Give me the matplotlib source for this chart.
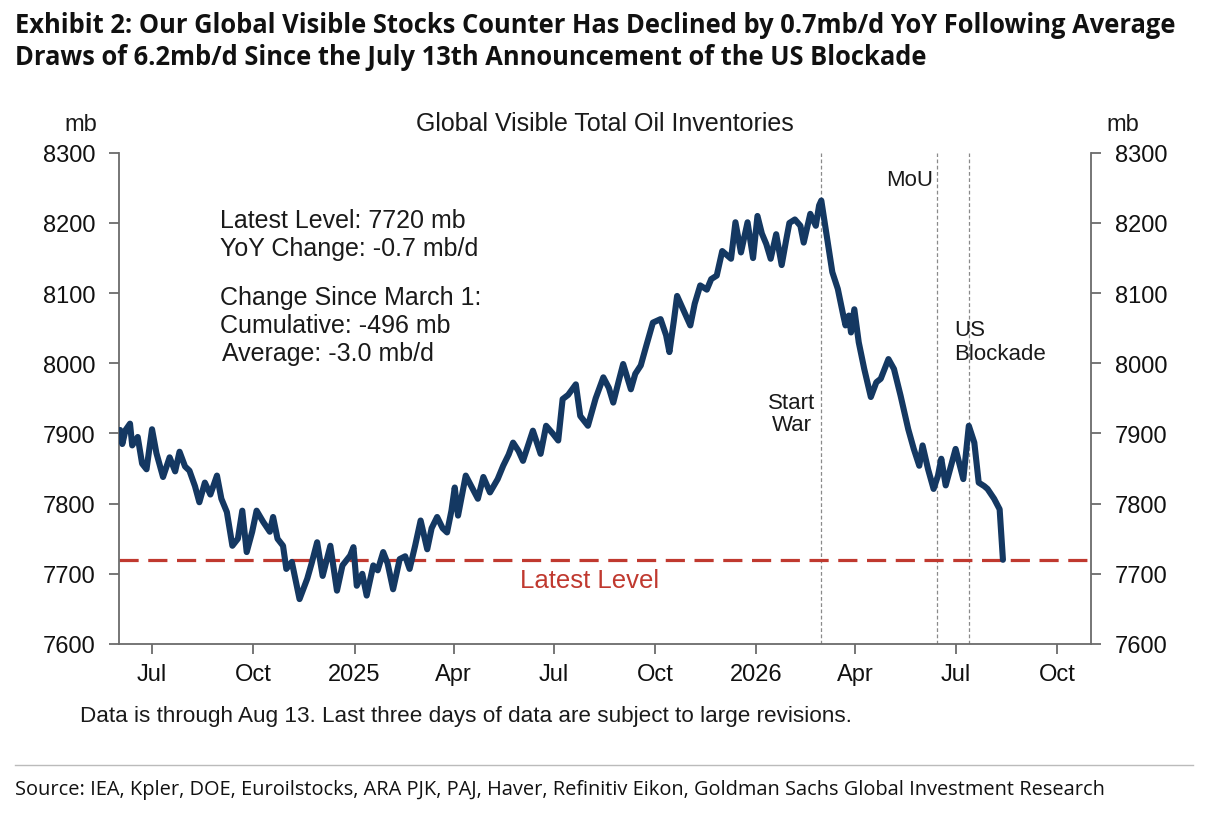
import matplotlib
matplotlib.use("Agg")
import matplotlib.pyplot as plt
from matplotlib.lines import Line2D
import pandas as pd

# ---------------- data ----------------
start_date = "2024-06-01"
day_offsets = [1, 3, 6, 10, 12, 17, 21, 25, 30, 34, 40, 46, 51, 55, 60, 64, 69, 73, 78, 83,
               89, 93, 98, 103, 108, 112, 116, 121, 125, 131, 137, 140, 144, 149, 152, 157,
               164, 171, 175, 180, 185, 192, 198, 203, 210, 213, 216, 221, 225, 231, 235, 240,
               244, 249, 255, 260, 264, 269, 274, 280, 284, 289, 294, 298, 302, 305, 308, 315,
               320, 326, 331, 337, 344, 349, 354, 358, 363, 367, 372, 376, 383, 388, 394, 399,
               403, 408, 415, 419, 426, 433, 440, 445, 449, 454, 458, 465, 469, 474, 479, 485,
               492, 497, 500, 504, 507, 513, 519, 523, 528, 534, 538, 543, 548, 556, 560, 565,
               571, 576, 580, 584, 588, 592, 597, 602, 606, 609, 614, 619, 622, 628, 633, 636,
               638, 642, 648, 653, 658, 660, 663, 665, 668, 672, 677, 683, 688, 692, 699, 704,
               710, 717, 722, 727, 730, 735, 740, 744, 747, 751, 756, 760, 767, 772, 777, 781,
               786, 789, 795, 800, 803]
inventories_mb = [7905, 7885, 7905, 7914, 7883, 7895, 7857, 7849, 7906, 7872, 7838, 7866, 7846,
                  7874, 7853, 7847, 7825, 7802, 7830, 7813, 7840, 7807, 7788, 7740, 7750, 7790,
                  7731, 7760, 7790, 7774, 7760, 7781, 7750, 7740, 7707, 7717, 7664, 7693, 7715,
                  7745, 7697, 7740, 7676, 7712, 7726, 7738, 7683, 7700, 7669, 7712, 7705, 7731,
                  7715, 7678, 7721, 7725, 7707, 7740, 7776, 7735, 7765, 7781, 7765, 7759, 7790,
                  7823, 7783, 7840, 7825, 7807, 7838, 7816, 7835, 7854, 7870, 7887, 7875, 7861,
                  7885, 7904, 7871, 7911, 7900, 7890, 7949, 7955, 7970, 7925, 7911, 7950, 7980,
                  7965, 7944, 7975, 7999, 7963, 7985, 7997, 8025, 8058, 8063, 8040, 8016, 8060,
                  8096, 8075, 8054, 8085, 8111, 8105, 8120, 8125, 8160, 8149, 8201, 8158, 8201,
                  8150, 8210, 8185, 8170, 8149, 8184, 8140, 8175, 8200, 8205, 8196, 8172, 8213,
                  8196, 8225, 8232, 8191, 8130, 8106, 8068, 8054, 8068, 8044, 8077, 8030, 7992,
                  7952, 7973, 7978, 8006, 7992, 7954, 7906, 7878, 7854, 7883, 7849, 7821, 7840,
                  7864, 7826, 7855, 7878, 7835, 7911, 7887, 7830, 7825, 7821, 7807, 7792, 7720]
latest_level = 7720
event_dates = ["2026-03-01", "2026-06-14", "2026-07-13"]
event_labels = ["Start\nWar", "MoU", "US\nBlockade"]
tick_dates = ["2024-07-01", "2024-10-01", "2025-01-01", "2025-04-01", "2025-07-01",
              "2025-10-01", "2026-01-01", "2026-04-01", "2026-07-01", "2026-10-01"]
tick_labels = ["Jul", "Oct", "2025", "Apr", "Jul", "Oct", "2026", "Apr", "Jul", "Oct"]
y_ticks = [7600, 7700, 7800, 7900, 8000, 8100, 8200, 8300]
x_limits = ["2024-06-01", "2026-11-01"]

dates = pd.Timestamp(start_date) + pd.to_timedelta(day_offsets, unit="D")

# ---------------- figure ----------------
W, H = 1206, 820
plt.rcParams["font.family"] = ["Liberation Sans", "DejaVu Sans"]
fig = plt.figure(figsize=(W / 100, H / 100), dpi=100)


def fx(px):
    return px / W


def fy(py):
    return 1 - py / H


ax = fig.add_axes([fx(119), fy(645), fx(1091) - fx(119), fy(153.8) - fy(645)])
NAVY = "#143862"
RED = "#C0392F"
AXC = "#6b6b6b"
FS = 17
AFS = 18

ax.plot(dates, inventories_mb, color=NAVY, lw=4.4, solid_joinstyle="round",
        solid_capstyle="round", zorder=3)
ax.axhline(latest_level, color=RED, lw=2.3, ls=(0, (6, 3)), zorder=2)
for d in event_dates:
    ax.axvline(pd.Timestamp(d), color="#8a8a8a", lw=0.9, ls=(0, (3, 2)), zorder=1)

ax.set_xlim(pd.Timestamp(x_limits[0]), pd.Timestamp(x_limits[1]))
ax.set_ylim(7600, 8300)
ax.set_yticks(y_ticks)
ax.set_xticks([pd.Timestamp(t) for t in tick_dates])
ax.set_xticklabels(tick_labels)

ax.spines["top"].set_visible(False)
for s in ["left", "right", "bottom"]:
    ax.spines[s].set_color(AXC)
    ax.spines[s].set_linewidth(1.3)

ax.tick_params(axis="both", direction="out", color=AXC, width=1.3, labelsize=FS,
               labelcolor="#111111")
ax.tick_params(axis="y", length=7, pad=10)
ax.tick_params(axis="x", length=7, pad=7)
ax.tick_params(axis="y", which="both", right=True, labelright=True)

# ---------------- text ----------------
tcol = "#1a1a1a"
fig.text(fx(605), fy(124), "Global Visible Total Oil Inventories", ha="center", va="center",
         fontsize=AFS, color=tcol)
fig.text(fx(81), fy(125), "mb", ha="center", va="center", fontsize=FS, color=tcol)
fig.text(fx(1123), fy(125), "mb", ha="center", va="center", fontsize=FS, color=tcol)

ann = dict(ha="left", va="center", fontsize=AFS, color=tcol)
fig.text(fx(220), fy(221), "Latest Level: 7720 mb", **ann)
fig.text(fx(220), fy(249), "YoY Change: -0.7 mb/d", **ann)
fig.text(fx(220), fy(298), "Change Since March 1:", **ann)
fig.text(fx(220), fy(326), "Cumulative: -496 mb", **ann)
fig.text(fx(222), fy(354), "Average: -3.0 mb/d", **ann)

fig.text(fx(590), fy(581), "Latest Level", ha="center", va="center", fontsize=18.5, color=RED)

EFS = 16
for i, line in enumerate(event_labels[0].split("\n")):
    fig.text(fx(792), fy(404 + 22 * i), line, ha="center", va="center", fontsize=EFS, color=tcol)
fig.text(fx(910), fy(181), event_labels[1], ha="center", va="center", fontsize=EFS, color=tcol)
for i, line in enumerate(event_labels[2].split("\n")):
    fig.text(fx(954), fy(331 + 24 * i), line, ha="left", va="center", fontsize=EFS, color=tcol)

fig.text(fx(80), fy(717), "Data is through Aug 13. Last three days of data are subject to large revisions.",
         ha="left", va="center", fontsize=16.2, color=tcol)

# heading
hfont = ["Open Sans", "DejaVu Sans"]
fig.text(fx(15), fy(33), "Exhibit 2: Our Global Visible Stocks Counter Has Declined by 0.7mb/d YoY Following Average",
         ha="left", va="baseline", fontsize=18.4, fontweight="bold", color="#111111", family=hfont)
fig.text(fx(15), fy(65), "Draws of 6.2mb/d Since the July 13th Announcement of the US Blockade",
         ha="left", va="baseline", fontsize=18.4, fontweight="bold", color="#111111", family=hfont)

fig.add_artist(Line2D([fx(15), fx(1193)], [fy(766), fy(766)], color="#bbbbbb", lw=1.0))
fig.text(fx(15), fy(795), "Source: IEA, Kpler, DOE, Euroilstocks, ARA PJK, PAJ, Haver, Refinitiv Eikon, Goldman Sachs Global Investment Research",
         ha="left", va="baseline", fontsize=14.4, color="#111111", family=hfont)

fig.savefig("out.png", dpi=100)
